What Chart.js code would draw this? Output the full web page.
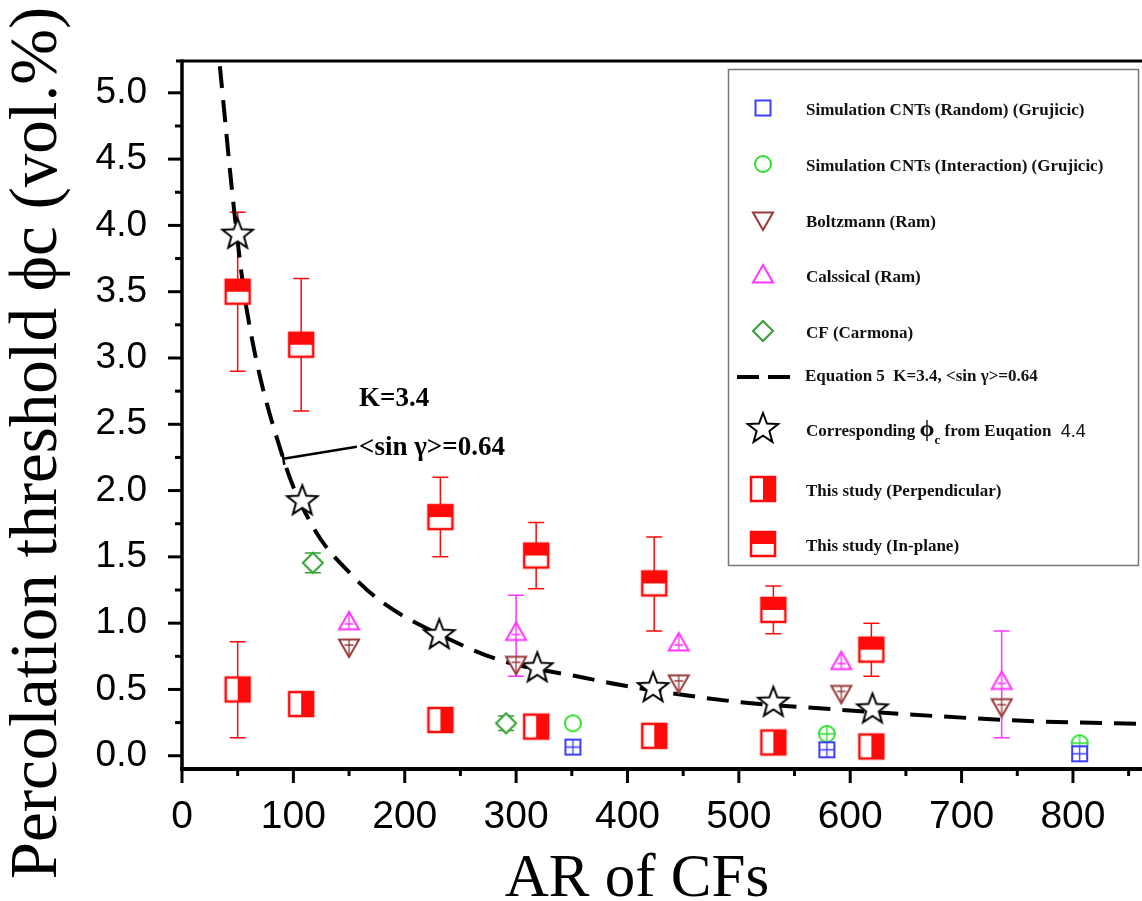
<!DOCTYPE html>
<html>
<head>
<meta charset="utf-8">
<script src="https://cdn.jsdelivr.net/npm/chart.js@4.4.1/dist/chart.umd.min.js"></script>
<style>
  body { margin: 0; background: #fff; }
  #wrap { width: 1142px; height: 901px; }
</style>
</head>
<body>
<div id="wrap"><canvas id="chart" width="1142" height="901"></canvas></div>
<script>
// ---- data (AR of CFs vs percolation threshold, vol.%) ----
var randomAR = [351, 579, 806];
var randomPhi = [0.065, 0.045, 0.015];

var interAR = [351, 579, 806];
var interPhi = [0.245, 0.165, 0.095];

var boltzAR = [150, 300, 446, 592, 736];
var boltzPhi = [0.82, 0.69, 0.55, 0.47, 0.37];

var classicAR = [150, 300, 446, 592, 736];
var classicPhi = [1.01, 0.93, 0.85, 0.71, 0.56];
var classicHi = [null, 1.21, null, null, 0.94];
var classicLo = [null, 0.60, null, null, 0.135];

var carmonaAR = [117.5, 291];
var carmonaPhi = [1.455, 0.245];
var carmonaHi = [1.53, 0.30];
var carmonaLo = [1.38, 0.19];

// dashed curve, Equation 5
var eqAR = [34, 47, 58, 91, 118, 154, 181, 241, 286, 360, 393, 495, 585, 675, 765, 862];
var eqPhi = [5.2, 4.1, 3.37, 2.24, 1.72, 1.35, 1.15, 0.875, 0.72, 0.59, 0.535, 0.41, 0.35, 0.30, 0.26, 0.24];

var starAR = [50, 108, 231, 319, 423, 531, 620];
var starPhi = [3.93, 1.92, 0.91, 0.66, 0.51, 0.40, 0.35];

var studyAR = [50, 107, 232, 318, 424, 531, 619];
var perpPhi = [0.50, 0.39, 0.27, 0.22, 0.15, 0.10, 0.07];
var perpHi = [0.86, null, null, null, null, null, null];
var perpLo = [0.135, null, null, null, null, null, null];

var planePhi = [3.50, 3.10, 1.80, 1.51, 1.30, 1.10, 0.80];
var planeHi = [4.10, 3.60, 2.10, 1.76, 1.65, 1.28, 1.00];
var planeLo = [2.90, 2.60, 1.50, 1.26, 0.94, 0.92, 0.60];

var xTicks = { min: 0, max: 862, major: 100, minor: 50 };
var yTicks = { min: -0.1, max: 5.24, major: 0.5, minor: 0.25 };

var serif = '"Liberation Serif", "Times New Roman", serif';
var sans = '"Liberation Sans", Arial, sans-serif';

function pairs(xs, ys) {
    return xs.map(function (x, i) { return { x: x, y: ys[i] }; });
}

function isMajor(v, step) {
    var r = v / step;
    return Math.abs(r - Math.round(r)) < 1e-6;
}

// marker images used as pointStyle
function makeMarker(kind, color, size, inner) {
    var c = document.createElement('canvas');
    c.width = c.height = size + 8;
    var g = c.getContext('2d');
    var h = size / 2;
    g.translate(c.width / 2, c.height / 2);
    g.strokeStyle = color;
    g.fillStyle = '#fff';
    g.lineWidth = 2;
    g.beginPath();
    if (kind === 'square') {
        g.rect(-h, -h, size, size);
        g.fill(); g.stroke();
        if (inner) {
            g.lineWidth = 1.3;
            g.beginPath();
            g.moveTo(0, -h); g.lineTo(0, h);
            g.moveTo(-h, 0); g.lineTo(h, 0);
            g.stroke();
        }
    } else if (kind === 'circle') {
        g.arc(0, 0, h, 0, Math.PI * 2);
        g.fill(); g.stroke();
        if (inner) {
            g.lineWidth = 1.3;
            g.beginPath();
            g.moveTo(0, -h); g.lineTo(0, h);
            g.moveTo(-h, 0); g.lineTo(h, 0);
            g.stroke();
        }
    } else if (kind === 'triUp' || kind === 'triDown') {
        var s = kind === 'triUp' ? 1 : -1;
        g.moveTo(0, -h * s);
        g.lineTo(h, h * 0.75 * s);
        g.lineTo(-h, h * 0.75 * s);
        g.closePath();
        g.fill(); g.stroke();
        if (inner) {
            g.lineWidth = 1.3;
            g.beginPath();
            g.moveTo(-h * 0.45, h * 0.2 * s); g.lineTo(h * 0.45, h * 0.2 * s);
            g.moveTo(0, -h * 0.8 * s); g.lineTo(0, h * 0.75 * s);
            g.stroke();
        }
    } else if (kind === 'diamond') {
        g.moveTo(0, -h); g.lineTo(h, 0); g.lineTo(0, h); g.lineTo(-h, 0);
        g.closePath();
        g.fill(); g.stroke();
    } else if (kind === 'star') {
        for (var i = 0; i < 10; i++) {
            var r = i % 2 === 0 ? h : h * 0.42;
            var a = -Math.PI / 2 + i * Math.PI / 5;
            if (i === 0) g.moveTo(r * Math.cos(a), r * Math.sin(a));
            else g.lineTo(r * Math.cos(a), r * Math.sin(a));
        }
        g.closePath();
        g.fill(); g.stroke();
    } else if (kind === 'halfRight') {
        g.lineWidth = 2.5;
        g.fillRect(-h, -h, size, size);
        g.fillStyle = color;
        g.fillRect(0, -h, h, size);
        g.strokeRect(-h, -h, size, size);
    } else if (kind === 'halfTop') {
        g.lineWidth = 2.5;
        g.fillRect(-h, -h, size, size);
        g.fillStyle = color;
        g.fillRect(-h, -h, size, h);
        g.strokeRect(-h, -h, size, size);
    }
    return c;
}

var blue = '#3d3dff', lime = '#2fe02f', brown = '#9a3a3a', magenta = '#ff35ff', green = '#34a034', red = '#ff0a0a';

var mk = {
    square: makeMarker('square', blue, 15, false),
    squareX: makeMarker('square', blue, 15, true),
    circle: makeMarker('circle', lime, 16, false),
    circleX: makeMarker('circle', lime, 16, true),
    triDown: makeMarker('triDown', brown, 20, false),
    triDownX: makeMarker('triDown', brown, 20, true),
    triUp: makeMarker('triUp', magenta, 20, false),
    triUpX: makeMarker('triUp', magenta, 20, true),
    diamond: makeMarker('diamond', green, 20, false),
    star: makeMarker('star', '#000', 32, false),
    perp: makeMarker('halfRight', red, 24, false),
    plane: makeMarker('halfTop', red, 24, false)
};

var datasets = [
    {
        label: 'Simulation CNTs (Random) (Grujicic)',
        data: pairs(randomAR, randomPhi),
        pointStyle: mk.squareX, legendStyle: mk.square
    },
    {
        label: 'Simulation CNTs (Interaction) (Grujicic)',
        data: pairs(interAR, interPhi),
        pointStyle: [mk.circle, mk.circleX, mk.circleX], legendStyle: mk.circle
    },
    {
        label: 'Boltzmann (Ram)',
        data: pairs(boltzAR, boltzPhi),
        pointStyle: mk.triDownX, legendStyle: mk.triDown
    },
    {
        label: 'Calssical (Ram)',
        data: pairs(classicAR, classicPhi),
        pointStyle: mk.triUpX, legendStyle: mk.triUp,
        errHi: classicHi, errLo: classicLo, errColor: magenta
    },
    {
        label: 'CF (Carmona)',
        data: pairs(carmonaAR, carmonaPhi),
        pointStyle: mk.diamond, legendStyle: mk.diamond,
        errHi: carmonaHi, errLo: carmonaLo, errColor: green
    },
    {
        label: 'Equation 5  K=3.4, <sin \u03b3>=0.64',
        data: pairs(eqAR, eqPhi),
        showLine: true,
        pointRadius: 0,
        borderColor: '#000',
        borderWidth: 4,
        borderDash: [22, 12],
        cubicInterpolationMode: 'monotone',
        order: 1,
        legendDash: true
    },
    {
        label: 'Corresponding \u03d5c from Euqation 4.4',
        data: pairs(starAR, starPhi),
        pointStyle: mk.star, legendStyle: mk.star,
        richLabel: true
    },
    {
        label: 'This study (Perpendicular)',
        data: pairs(studyAR, perpPhi),
        pointStyle: mk.perp, legendStyle: mk.perp,
        errHi: perpHi, errLo: perpLo, errColor: red
    },
    {
        label: 'This study (In-plane)',
        data: pairs(studyAR, planePhi),
        pointStyle: mk.plane, legendStyle: mk.plane,
        errHi: planeHi, errLo: planeLo, errColor: red
    }
];

datasets.forEach(function (d) {
    if (d.pointRadius === undefined) d.pointRadius = 10;
    if (d.showLine === undefined) d.showLine = false;
});

// vertical error bars with caps, under the markers
var errorBars = {
    id: 'errorBars',
    beforeDatasetsDraw: function (chart) {
        var ctx = chart.ctx, xs = chart.scales.x, ys = chart.scales.y;
        ctx.save();
        chart.data.datasets.forEach(function (ds) {
            if (!ds.errHi) return;
            ctx.strokeStyle = ds.errColor;
            ctx.lineWidth = 1.5;
            ds.data.forEach(function (p, i) {
                if (ds.errHi[i] == null) return;
                var x = xs.getPixelForValue(p.x);
                var y1 = ys.getPixelForValue(ds.errHi[i]);
                var y2 = ys.getPixelForValue(ds.errLo[i]);
                ctx.beginPath();
                ctx.moveTo(x, y1); ctx.lineTo(x, y2);
                ctx.moveTo(x - 8, y1); ctx.lineTo(x + 8, y1);
                ctx.moveTo(x - 8, y2); ctx.lineTo(x + 8, y2);
                ctx.stroke();
            });
        });
        ctx.restore();
    }
};

// axes, ticks and titles
var axisFrame = {
    id: 'axisFrame',
    afterDraw: function (chart) {
        var ctx = chart.ctx, a = chart.chartArea, xs = chart.scales.x, ys = chart.scales.y;
        ctx.save();
        ctx.strokeStyle = '#000';
        ctx.lineWidth = 3;
        ctx.beginPath(); ctx.moveTo(a.left - 6, a.top); ctx.lineTo(a.right, a.top); ctx.stroke();
        ctx.lineWidth = 3.5;
        ctx.beginPath(); ctx.moveTo(a.left, a.top - 1.5); ctx.lineTo(a.left, a.bottom + 2); ctx.stroke();
        ctx.lineWidth = 4;
        ctx.beginPath(); ctx.moveTo(a.left - 2, a.bottom); ctx.lineTo(a.right, a.bottom); ctx.stroke();

        ctx.lineWidth = 3;
        ys.ticks.forEach(function (t) {
            var y = ys.getPixelForValue(t.value);
            var len = isMajor(t.value, yTicks.major) ? 14 : 7;
            ctx.beginPath(); ctx.moveTo(a.left, y); ctx.lineTo(a.left - len, y); ctx.stroke();
        });
        xs.ticks.forEach(function (t) {
            var x = xs.getPixelForValue(t.value);
            var len = isMajor(t.value, xTicks.major) ? 14 : 7;
            ctx.beginPath(); ctx.moveTo(x, a.bottom); ctx.lineTo(x, a.bottom + len); ctx.stroke();
        });

        ctx.fillStyle = '#000';
        ctx.textAlign = 'center';
        ctx.textBaseline = 'alphabetic';
        ctx.font = '61px ' + serif;
        ctx.fillText('AR of CFs', 637, 896);
        ctx.translate(56, 443);
        ctx.rotate(-Math.PI / 2);
        ctx.font = '67px ' + serif;
        ctx.fillText('Percolation threshold \u03d5c (vol.%)', 0, 0);
        ctx.restore();
    }
};

// K / <sin γ> note pointing at the curve
var curveNote = {
    id: 'curveNote',
    afterDatasetsDraw: function (chart) {
        var ctx = chart.ctx, xs = chart.scales.x, ys = chart.scales.y;
        var x0 = xs.getPixelForValue(91), y0 = ys.getPixelForValue(2.24);
        var x1 = xs.getPixelForValue(157), y1 = ys.getPixelForValue(2.33);
        ctx.save();
        ctx.strokeStyle = '#000';
        ctx.lineWidth = 2.5;
        ctx.beginPath();
        ctx.moveTo(x0, y0); ctx.lineTo(x1, y1);
        ctx.moveTo(x0 - 1, y0 - 6); ctx.lineTo(x0 + 1, y0 + 6);
        ctx.stroke();
        ctx.fillStyle = '#000';
        ctx.font = 'bold 27px ' + serif;
        ctx.textAlign = 'left';
        ctx.textBaseline = 'middle';
        ctx.fillText('K=3.4', xs.getPixelForValue(159), ys.getPixelForValue(2.69));
        ctx.fillText('<sin \u03b3>=0.64', xs.getPixelForValue(159), ys.getPixelForValue(2.32));
        ctx.restore();
    }
};

// boxed legend inside the plot
var legendBox = {
    id: 'legendBox',
    afterDraw: function (chart) {
        var ctx = chart.ctx;
        var bx = 728, by = 69, bw = 410, bh = 496;
        var rows = [42, 98, 154, 209, 265, 308, 363, 423, 478];
        ctx.save();
        ctx.fillStyle = '#fff';
        ctx.fillRect(bx, by, bw, bh);
        ctx.strokeStyle = '#777';
        ctx.lineWidth = 1.5;
        ctx.strokeRect(bx + 0.5, by + 0.5, bw, bh);
        chart.data.datasets.forEach(function (ds, i) {
            var cy = by + rows[i];
            var sx = 763, tx = 806;
            if (ds.legendDash) {
                ctx.strokeStyle = '#000';
                ctx.lineWidth = 4;
                ctx.beginPath();
                ctx.moveTo(737, cy); ctx.lineTo(759, cy);
                ctx.moveTo(768, cy); ctx.lineTo(790, cy);
                ctx.stroke();
                tx = 805;
            } else {
                var img = ds.legendStyle;
                ctx.drawImage(img, sx - img.width / 2, cy - 3 - img.height / 2);
            }
            ctx.fillStyle = '#111';
            ctx.textAlign = 'left';
            ctx.textBaseline = 'middle';
            ctx.font = 'bold 17px ' + serif;
            if (ds.richLabel) {
                var x = tx;
                ctx.fillText('Corresponding ', x, cy);
                x += ctx.measureText('Corresponding ').width;
                ctx.font = 'bold 24px ' + serif;
                ctx.fillText('\u03d5', x, cy - 2);
                x += ctx.measureText('\u03d5').width;
                ctx.font = 'bold 13px ' + serif;
                ctx.fillText('c', x, cy + 9);
                x += ctx.measureText('c').width;
                ctx.font = 'bold 17px ' + serif;
                ctx.fillText(' from Euqation', x, cy);
                x += ctx.measureText(' from Euqation ').width;
                ctx.font = '18px ' + sans;
                ctx.fillText(' 4.4', x, cy);
            } else {
                ctx.fillText(ds.label, tx, cy);
            }
        });
        ctx.restore();
    }
};

var chart = new Chart(document.getElementById('chart'), {
    type: 'scatter',
    data: { datasets: datasets },
    options: {
        responsive: false,
        animation: false,
        events: [],
        layout: { autoPadding: false, padding: { top: 61, right: 0, bottom: 0, left: 0 } },
        plugins: {
            legend: { display: false },
            tooltip: { enabled: false }
        },
        scales: {
            x: {
                type: 'linear',
                min: xTicks.min,
                max: xTicks.max,
                afterFit: function (s) {
                    s.height = 132;
                    s.paddingLeft = 0;
                    s.paddingRight = 0;
                },
                grid: { display: false },
                border: { display: false },
                ticks: {
                    stepSize: xTicks.minor,
                    includeBounds: false,
                    autoSkip: false,
                    maxRotation: 0,
                    padding: 17,
                    color: '#000',
                    font: { family: sans, size: 39 },
                    callback: function (v) { return isMajor(v, xTicks.major) ? String(v) : ''; }
                }
            },
            y: {
                type: 'linear',
                min: yTicks.min,
                max: yTicks.max,
                afterFit: function (s) {
                    s.width = 182;
                    s.paddingTop = 0;
                    s.paddingBottom = 0;
                },
                grid: { display: false },
                border: { display: false },
                ticks: {
                    stepSize: yTicks.minor,
                    includeBounds: false,
                    autoSkip: false,
                    padding: 27,
                    color: '#000',
                    font: { family: sans, size: 37 },
                    callback: function (v) { return isMajor(v, yTicks.major) ? v.toFixed(1) : ''; }
                }
            }
        }
    },
    plugins: [errorBars, curveNote, axisFrame, legendBox]
});
</script>
</body>
</html>
